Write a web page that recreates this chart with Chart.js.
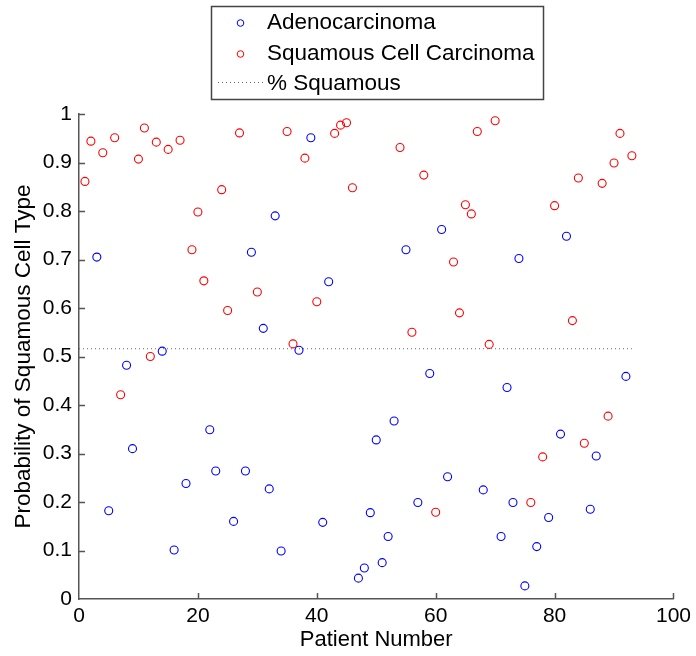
<!DOCTYPE html>
<html>
<head>
<meta charset="utf-8">
<script src="https://cdn.jsdelivr.net/npm/chart.js@4.4.1/dist/chart.umd.min.js"></script>
<style>
  html, body { margin: 0; padding: 0; background: #fff; }
  canvas { display: block; }
</style>
</head>
<body>
<canvas id="scatter-chart" width="696" height="656"></canvas>
<script>
// patient numbers and probabilities
const adenoX = [3, 5, 8, 9, 14, 16, 18, 22, 23, 26, 28, 29, 31, 32, 33, 34, 37, 39, 41, 42,
  47, 48, 49, 50, 51, 52, 53, 55, 57, 59, 61, 62, 68, 71, 72, 73, 74, 75, 77, 79,
  81, 82, 86, 87, 92];
const adenoY = [0.705, 0.182, 0.482, 0.310, 0.511, 0.101, 0.238, 0.349, 0.264, 0.160, 0.264, 0.715, 0.558, 0.227, 0.790, 0.099, 0.513, 0.951, 0.158, 0.654,
  0.043, 0.064, 0.178, 0.328, 0.075, 0.129, 0.367, 0.720, 0.199, 0.465, 0.762, 0.252, 0.225, 0.129, 0.436, 0.199, 0.702, 0.027, 0.108, 0.168,
  0.340, 0.748, 0.185, 0.295, 0.459];

const squamX = [1, 2, 4, 6, 7, 10, 11, 12, 13, 15, 17, 19, 20, 21, 24, 25, 27, 30, 35, 36,
  38, 40, 43, 44, 45, 46, 54, 56, 58, 60, 63, 64, 65, 66, 67, 69, 70, 76, 78, 80,
  83, 84, 85, 88, 89, 90, 91, 93];
const squamY = [0.861, 0.944, 0.920, 0.951, 0.421, 0.907, 0.971, 0.500, 0.942, 0.927, 0.946, 0.720, 0.798, 0.656, 0.844, 0.595, 0.961, 0.633, 0.964, 0.526,
  0.909, 0.613, 0.960, 0.977, 0.982, 0.848, 0.931, 0.550, 0.874, 0.179, 0.695, 0.590, 0.813, 0.794, 0.964, 0.525, 0.986, 0.199, 0.293, 0.811,
  0.574, 0.868, 0.321, 0.857, 0.377, 0.899, 0.960, 0.914];

const pctLineX = [0, 93];
const pctLineY = [0.516, 0.516];

const xTicks = [0, 20, 40, 60, 80, 100];
const yTicks = [0, 0.1, 0.2, 0.3, 0.4, 0.5, 0.6, 0.7, 0.8, 0.9, 1];

const toPoints = (xs, ys) => xs.map((x, i) => ({x: x, y: ys[i]}));

Chart.defaults.font.family = '"Liberation Sans", Arial, sans-serif';
Chart.defaults.color = '#000';

const AXIS = '#555';

// matlab style inward tick marks
const inwardTicks = {
  id: 'inwardTicks',
  afterDatasetsDraw(chart) {
    const c = chart.ctx, a = chart.chartArea;
    const xs = chart.scales.x, ys = chart.scales.y;
    c.save();
    c.strokeStyle = AXIS;
    c.lineWidth = 1.5;
    c.beginPath();
    xTicks.forEach(v => {
      if (v === 0) return;
      const px = Math.round(xs.getPixelForValue(v)) + 0.5;
      c.moveTo(px, a.bottom);
      c.lineTo(px, a.bottom - 6);
    });
    yTicks.forEach(v => {
      if (v === 0) return;
      const py = Math.round(ys.getPixelForValue(v)) + 0.5;
      c.moveTo(a.left, py);
      c.lineTo(a.left + 6, py);
    });
    c.stroke();
    c.restore();
  }
};

// boxed legend at the top, one entry per row
const boxLegend = {
  id: 'boxLegend',
  afterDraw(chart) {
    const c = chart.ctx;
    const sets = chart.data.datasets;
    c.save();
    c.fillStyle = '#fff';
    c.fillRect(211.5, 6.5, 332, 93);
    c.strokeStyle = '#444';
    c.lineWidth = 1.5;
    c.strokeRect(211.5, 6.5, 332, 93);
    c.font = '22.5px "Liberation Sans", Arial, sans-serif';
    c.textBaseline = 'middle';
    c.fillStyle = '#000';
    const rows = [23, 54, 84];
    sets.forEach((ds, i) => {
      const y = rows[i];
      if (ds.type === 'line') {
        c.strokeStyle = ds.borderColor;
        c.lineWidth = 1;
        c.setLineDash(ds.borderDash);
        c.beginPath();
        c.moveTo(218, y - 1.5);
        c.lineTo(264, y - 1.5);
        c.stroke();
        c.setLineDash([]);
      } else {
        c.strokeStyle = ds.borderColor;
        c.lineWidth = 1;
        c.beginPath();
        c.arc(240.5, y, 3.3, 0, Math.PI * 2);
        c.stroke();
      }
      c.fillText(ds.label, 267, y);
    });
    c.restore();
  }
};

const ctx = document.getElementById('scatter-chart').getContext('2d');
const myChart = new Chart(ctx, {
  type: 'scatter',
  data: {
    datasets: [{
      label: 'Adenocarcinoma',
      data: toPoints(adenoX, adenoY),
      borderColor: '#0000ff',
      backgroundColor: 'rgba(0,0,0,0)',
      pointRadius: 4,
      borderWidth: 1.1
    }, {
      label: 'Squamous Cell Carcinoma',
      data: toPoints(squamX, squamY),
      borderColor: '#ff0000',
      backgroundColor: 'rgba(0,0,0,0)',
      pointRadius: 4,
      borderWidth: 1.1
    }, {
      type: 'line',
      label: '% Squamous',
      data: toPoints(pctLineX, pctLineY),
      borderColor: '#666',
      borderWidth: 1,
      borderDash: [1, 3],
      pointRadius: 0,
      fill: false
    }]
  },
  options: {
    responsive: false,
    animation: false,
    layout: {padding: {top: 114, right: 21, left: 0, bottom: 0}},
    plugins: {legend: {display: false}, tooltip: {enabled: false}},
    scales: {
      x: {
        type: 'linear',
        min: 0, max: 100,
        afterFit: s => { s.height = 57; },
        afterBuildTicks: s => { s.ticks = xTicks.map(v => ({value: v})); },
        grid: {display: false, drawTicks: false},
        border: {display: true, color: AXIS, width: 1.5},
        ticks: {font: {size: 21}, padding: 5, maxRotation: 0},
        title: {display: true, text: 'Patient Number', font: {size: 22}, padding: {top: 0, bottom: 3}}
      },
      y: {
        type: 'linear',
        min: 0, max: 1,
        afterFit: s => { s.width = 79; },
        afterBuildTicks: s => { s.ticks = yTicks.map(v => ({value: v})); },
        grid: {display: false, drawTicks: false},
        border: {display: true, color: AXIS, width: 1.5},
        ticks: {font: {size: 21}, padding: 7, callback: v => String(+v.toFixed(1))},
        title: {display: true, text: 'Probability of Squamous Cell Type', font: {size: 22.5}, padding: {top: 10, bottom: 0}}
      }
    }
  },
  plugins: [inwardTicks, boxLegend]
});
</script>
</body>
</html>
